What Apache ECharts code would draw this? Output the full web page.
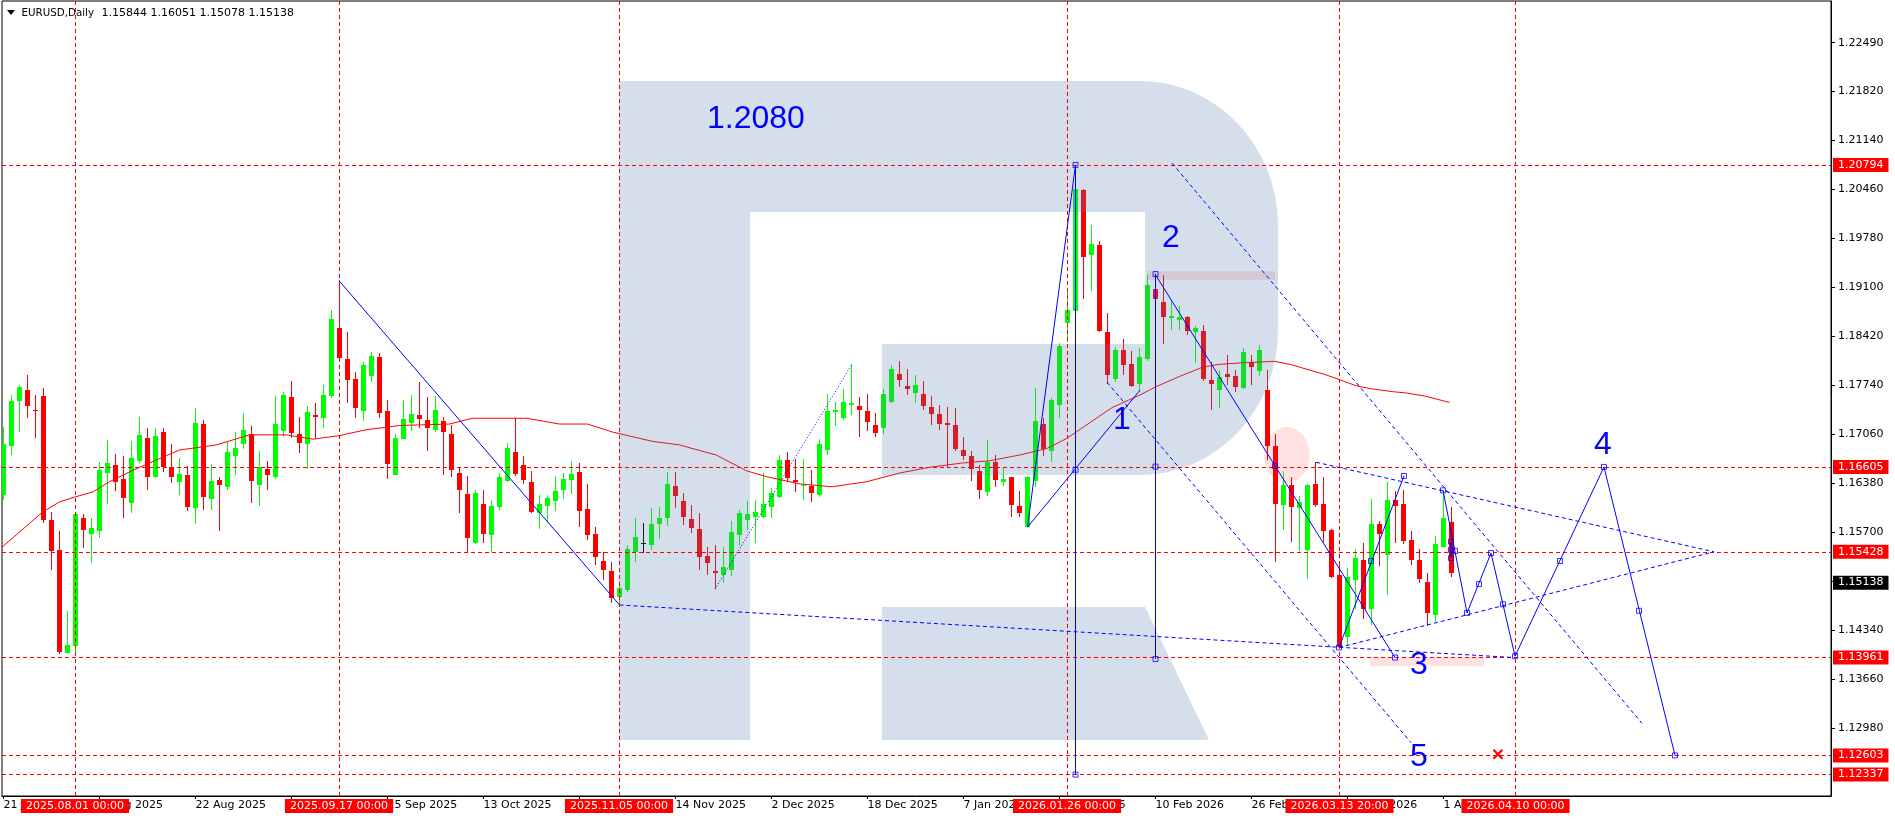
<!DOCTYPE html>
<html><head><meta charset="utf-8">
<script src="https://cdn.jsdelivr.net/npm/echarts@6/dist/echarts.min.js"></script>
<style>html,body{margin:0;padding:0;background:#fff}#c{width:1895px;height:820px}</style>
</head><body><div id="c"></div>
<script>
// ---------------- data ----------------
const opens = [1.1621,1.1689,1.1752,1.1767,1.1740,1.1759,1.1587,1.1545,1.1402,1.1412,
1.1590,1.1567,1.1571,1.1652,1.1663,1.1644,1.1611,1.1669,1.1701,1.1647,
1.1709,1.1660,1.1640,1.1649,1.1603,1.1720,1.1616,1.1642,1.1633,1.1676,
1.1693,1.1706,1.1636,1.1658,1.1646,1.1711,1.1757,1.1706,1.1693,1.1733,
1.1729,1.1759,1.1853,1.1810,1.1782,1.1738,1.1787,1.1813,1.1738,1.1649,
1.1699,1.1722,1.1733,1.1726,1.1712,1.1724,1.1706,1.1652,1.1623,1.1555,
1.1609,1.1566,1.1605,1.1641,1.1681,1.1663,1.1640,1.1597,1.1607,1.1613,
1.1629,1.1643,1.1654,1.1602,1.1567,1.1530,1.1516,1.1480,1.1490,1.1542,
1.15545,1.1552,1.1581,1.1590,1.1634,1.1613,1.1588,1.1574,1.1537,1.1516,
1.1510,1.1518,1.1566,1.1587,1.1591,1.1591,1.1605,1.1619,1.1670,1.1642,
1.1634,1.1634,1.1622,1.1684,1.1737,1.1729,1.1746,1.1745,1.1738,1.1718,
1.1714,1.1751,1.1790,1.1773,1.1763,1.1762,1.1744,1.1734,1.1721,1.1719,
1.1684,1.1676,1.1655,1.1626,1.1668,1.1640,1.1646,1.1606,1.1577,1.1641,
1.1720,1.1683,1.1746,1.1860,1.1877,1.2045,1.1954,1.1968,1.1847,1.1782,
1.1823,1.1803,1.1776,1.1810,1.1907,1.1889,1.1867,1.1864,1.1868,1.1848,
1.1849,1.1781,1.1767,1.1789,1.1786,1.1770,1.1806,1.1793,1.1767,1.1690,
1.1608,1.1635,1.1603,1.1545,1.1637,1.1609,1.1573,1.1511,1.1424,1.1504,
1.1532,1.1463,1.1581,1.1539,1.1615,1.1609,1.1559,1.1531,1.1501,1.1455,
1.1550,1.15844];
const highs = [1.1716,1.1760,1.1774,1.1788,1.1760,1.1770,1.1598,1.1572,1.1461,1.1596,
1.1595,1.1589,1.1667,1.1698,1.1678,1.1675,1.1696,1.1730,1.1714,1.1714,
1.1715,1.1692,1.1673,1.1662,1.1742,1.1725,1.1665,1.1647,1.1696,1.1709,
1.1735,1.1717,1.1682,1.1669,1.1759,1.1764,1.1780,1.1730,1.1745,1.1749,
1.1774,1.1878,1.1920,1.1848,1.1792,1.1806,1.1820,1.1819,1.1753,1.1706,
1.1754,1.1760,1.1778,1.1758,1.1759,1.1730,1.1719,1.1660,1.1648,1.1629,
1.1629,1.1615,1.1652,1.1694,1.1728,1.1676,1.1655,1.1622,1.1622,1.1648,
1.1652,1.1669,1.1666,1.1637,1.1577,1.1542,1.1529,1.1500,1.1552,1.1589,
1.1583,1.1604,1.1605,1.1654,1.1653,1.1625,1.1608,1.1596,1.1550,1.1552,
1.1550,1.1585,1.1601,1.1613,1.1615,1.1652,1.1631,1.1677,1.1681,1.1671,
1.1671,1.1656,1.1699,1.1761,1.1751,1.1768,1.1803,1.1757,1.1761,1.1736,
1.1768,1.1802,1.1808,1.1797,1.1788,1.1780,1.1759,1.1747,1.1743,1.1742,
1.1702,1.1682,1.1663,1.1698,1.1677,1.1661,1.1647,1.1627,1.1648,1.1770,
1.1728,1.1756,1.1832,1.1904,1.20794,1.2046,1.1996,1.1974,1.1874,1.1827,
1.1838,1.1822,1.1825,1.1927,1.1928,1.1927,1.1890,1.1884,1.1870,1.1856,
1.1857,1.1806,1.1795,1.1816,1.1795,1.1825,1.1816,1.1830,1.1795,1.1706,
1.1655,1.1646,1.1620,1.1637,1.1667,1.1646,1.1574,1.1529,1.1520,1.1546,
1.1555,1.1616,1.1585,1.1639,1.1627,1.1629,1.1572,1.1546,1.1513,1.1564,
1.1629,1.16051];
const lows = [1.1614,1.1677,1.1709,1.1729,1.1701,1.1583,1.1518,1.1401,1.1402,1.1398,
1.1548,1.1527,1.1562,1.1609,1.1627,1.1589,1.1597,1.1666,1.1628,1.1645,
1.1654,1.1638,1.1621,1.1600,1.1582,1.1601,1.1601,1.1572,1.1628,1.1650,
1.1685,1.1611,1.1607,1.1629,1.1644,1.1702,1.1701,1.1680,1.1658,1.1699,
1.1715,1.1756,1.1807,1.1749,1.1728,1.1724,1.1778,1.1728,1.1644,1.1649,
1.1699,1.1710,1.1714,1.1682,1.1709,1.1649,1.1646,1.1597,1.1541,1.1554,
1.1555,1.1542,1.1601,1.1640,1.1648,1.1637,1.1596,1.1575,1.1583,1.1600,
1.1616,1.1623,1.1577,1.1559,1.1524,1.1503,1.1472,1.1469,1.1487,1.1528,
1.1541,1.1545,1.1561,1.1578,1.1604,1.1580,1.1569,1.1518,1.1511,1.1491,
1.1500,1.1509,1.1552,1.1573,1.1555,1.1589,1.1589,1.1617,1.1640,1.1626,
1.1615,1.1612,1.1619,1.1677,1.1717,1.1725,1.1733,1.1702,1.1711,1.1702,
1.1706,1.1749,1.1772,1.1760,1.1749,1.1739,1.1718,1.1712,1.1659,1.1682,
1.1670,1.1641,1.1616,1.1620,1.1632,1.1634,1.1591,1.1591,1.1577,1.1632,
1.1675,1.1668,1.1728,1.1834,1.1875,1.1894,1.1905,1.1847,1.1776,1.1779,
1.1788,1.1772,1.1765,1.1808,1.1889,1.1831,1.1850,1.1850,1.1844,1.1804,
1.1780,1.1740,1.1742,1.1774,1.1765,1.1769,1.1774,1.1787,1.1670,1.1529,
1.1573,1.1557,1.1544,1.1505,1.1605,1.1557,1.1506,1.1410,1.1413,1.1464,
1.1449,1.1441,1.1523,1.1483,1.1555,1.1554,1.1524,1.1500,1.1440,1.1446,
1.1550,1.15078];
const closes = [1.1692,1.1752,1.1771,1.1745,1.1739,1.1587,1.1544,1.1404,1.1413,1.1595,
1.1573,1.1576,1.1656,1.1666,1.1640,1.1618,1.1673,1.1705,1.1647,1.1703,
1.1661,1.1646,1.1651,1.1605,1.1721,1.1619,1.1641,1.1636,1.1681,1.1687,
1.1712,1.1641,1.1660,1.1650,1.1720,1.1760,1.1708,1.1694,1.1737,1.1730,
1.1760,1.1866,1.1811,1.1781,1.1742,1.1802,1.1814,1.1736,1.1664,1.1700,
1.1727,1.1734,1.1727,1.1715,1.1739,1.1709,1.1656,1.1628,1.1562,1.1624,
1.1567,1.1606,1.1646,1.1687,1.1651,1.1642,1.1598,1.1609,1.1618,1.1627,
1.1644,1.1651,1.1600,1.1566,1.1535,1.1518,1.1479,1.1493,1.1547,1.1563,
1.15545,1.1582,1.1589,1.1637,1.1620,1.1591,1.1576,1.1536,1.1527,1.1514,
1.1521,1.1570,1.1596,1.1595,1.1598,1.1609,1.1624,1.1670,1.1645,1.1640,
1.1635,1.1625,1.1692,1.1738,1.1739,1.1751,1.1749,1.1739,1.1723,1.1707,
1.1761,1.1796,1.1781,1.1768,1.1774,1.1745,1.1734,1.1720,1.1719,1.1686,
1.1675,1.1657,1.1629,1.1668,1.1642,1.1644,1.1608,1.1597,1.1646,1.1724,
1.1686,1.1753,1.1828,1.1878,1.2046,1.1952,1.1970,1.1849,1.1788,1.1823,
1.1802,1.1773,1.1813,1.1913,1.1893,1.1869,1.1870,1.1868,1.1849,1.1853,
1.1782,1.1775,1.1785,1.1785,1.1772,1.1820,1.1799,1.1823,1.1690,1.1609,
1.1635,1.1605,1.1612,1.1635,1.1608,1.1571,1.1508,1.1411,1.1508,1.1534,
1.1463,1.1581,1.1567,1.1615,1.1606,1.1558,1.1531,1.1505,1.1458,1.1554,
1.1589,1.15138];

// moving average, read at bar positions
const maIdx = [-0.2,4.9,7,9,11.2,13.25,16.2,19.5,22,26.6,30.75,35.3,38.7,42,45.3,49.5,55.75,58.6,65.4,69.5,73,76.1,81.1,84.5,89.1,92.9,95.4,99.5,103.6,107.9,112,115.75,119.9,123.25,127,130.4,132.9,136.6,138.6,142,144.1,147,149.9,152.1,154.9,158.9,161.1,162.9,165.1,166.9,169.1,170.9,173.6,175.4,177.6,180.75];
const maVal = [1.1549,1.1598,1.1612,1.1619,1.1626,1.1640,1.1656,1.1672,1.1684,1.1691,1.1705,1.1705,1.1699,1.1704,1.1712,1.1718,1.1720,1.1728,1.1728,1.1720,1.1720,1.1709,1.1696,1.1691,1.1677,1.1655,1.1647,1.1637,1.1633,1.1640,1.1652,1.1660,1.1666,1.1669,1.1677,1.1686,1.1700,1.1728,1.1743,1.1760,1.1772,1.1786,1.1799,1.1803,1.1805,1.1807,1.1802,1.1796,1.1789,1.1782,1.1773,1.1769,1.1765,1.1763,1.1759,1.1750];

// axes
const xTickIdx = [0,12,24,36,48,60,72,84,96,108,120,132,144,156,168,180];
const xTickLabels = ['21 Jul 2025','6 Aug 2025','22 Aug 2025','9 Sep 2025','25 Sep 2025','13 Oct 2025','29 Oct 2025','14 Nov 2025','2 Dec 2025','18 Dec 2025','7 Jan 2026','23 Jan 2026','10 Feb 2026','26 Feb 2026','16 Mar 2026','1 Apr 2026'];
const yTickLabels = ['1.22490','1.21820','1.21140','1.20460','1.19780','1.19100','1.18420','1.17740','1.17060','1.16380','1.15700','1.15020','1.14340','1.13660','1.12980'];

// horizontal levels and dated vertical lines
const levelLabels = ['1.20794','1.16605','1.15428','1.13961','1.12603','1.12337'];
const lastPrice = '1.15138';
const dateIdx = [8.94, 41.94, 76.94, 132.94, 167.0, 189.0];
const dateLabels = ['2025.08.01 00:00','2025.09.17 00:00','2025.11.05 00:00','2026.01.26 00:00','2026.03.13 20:00','2026.04.10 00:00'];

// drawings: [bar index, price]
const solidLines = [
  [[42,1.1918],[77,1.1469]],
  [[128,1.1577],[134,1.20794]],
  [[128,1.1577],[142.06,1.1767]],
  [[134,1.20794],[134,1.12337]],
  [[144,1.1928],[144,1.1394]],
  [[143.94,1.1928],[173.94,1.1396]],
  [[166.94,1.1410],[175.06,1.1648]],
  [[180.94,1.1557],[180.94,1.1534]],
  [[179.94,1.1628],[182.94,1.1458],[185.94,1.1541],[188.94,1.1398],[200.06,1.16605],[208.94,1.12603]]
];
const dashedLines = [
  [[77,1.1469],[188.94,1.1396]],
  [[166.94,1.1410],[213.8,1.15428]],
  [[164.06,1.1667],[213.8,1.15428]],
  [[146.06,1.2082],[204.8,1.1305]],
  [[137.94,1.1778],[175.94,1.1278]]
];
const dottedLines = [[[88.94,1.1491],[106.06,1.1803]]];
const squarePts = [[134,1.20794],[134,1.16566],[134,1.12337],[144,1.1928],[144,1.1661],[144,1.1394],
  [158.94,1.1662],[173.94,1.1396],[166.94,1.1410],[170.94,1.1530],[175.06,1.1648],
  [179.94,1.1628],[181.44,1.1544],[182.94,1.1458],[184.44,1.1498],[185.94,1.1541],[187.44,1.1470],
  [188.94,1.1398],[194.56,1.1530],[200.06,1.16605],[204.44,1.1461],[208.94,1.12603],
  [180.94,1.1557],[180.94,1.15455],[180.94,1.1534]];
const waveNames = ['1','2','3','4','5'];
const wavePts = [[139.8,1.1726],[145.94,1.1978],[176.94,1.1386],[199.94,1.1690],[176.94,1.1258]];
const noteText = '1.2080';
const notePt = [87.94,1.2143];
const crossPt = [186.8,1.1262];
const pinkRects = [[[142.94,1.1932],[158.94,1.1920]],[[170.8,1.1397],[185.06,1.1384]]];
const pinkEllipse = [160.4,1.1677];

// ---------------- watermark outline (decoration, pixels) ----------------
function arcPts(cx, cy, rx, ry, a0, a1, n) {
  const out = [];
  for (let k = 0; k <= n; k++) { const t = (a0 + (a1 - a0) * k / n) * Math.PI / 180; out.push([cx + rx * Math.cos(t), cy + ry * Math.sin(t)]); }
  return out;
}
const logoMain = [[619,81],[1140,81], ...arcPts(1140,226,138,145,-90,0,24), [1278,226],[1278,330], ...arcPts(1140,330,138,145,0,90,24),
  [1140,475],[882,475],[882,344],[1145,344],[1145,212],[750,212],[750,740],[619,740]];
const logoLeg = [[882,607],[1145,607],[1209,740],[882,740]];

// ---------------- chart ----------------
const FONT = 'DejaVu Sans';
const chart = echarts.init(document.getElementById('c'), null, {renderer:'canvas', width:1895, height:820});
const candleData = opens.map((o,i)=>[i,o,closes[i],lows[i],highs[i]]);
const BLUE = '#0000ff';

const series = [];
series.push({
  type:'custom', z:1, silent:true, animation:false,
  data:[pinkEllipse], encode:{x:0,y:1},
  renderItem:(p,api)=>{const c=api.coord([api.value(0),api.value(1)]);
    return {type:'circle', x:c[0], y:c[1], scaleY:28/23, shape:{cx:0,cy:0,r:23}, style:{fill:'#ffe1e1'}};},
  markArea:{silent:true, itemStyle:{color:'#ffe1e1'}, data:pinkRects.map(r=>[{coord:r[0]},{coord:r[1]}])}
});
series.push({
  type:'custom', z:3, silent:true, animation:false, clip:true,
  data:candleData, encode:{x:0,y:[1,2,3,4]},
  renderItem:(p,api)=>{
    const i=api.value(0),o=api.value(1),c=api.value(2),l=api.value(3),h=api.value(4);
    const pO=api.coord([i,o]),pC=api.coord([i,c]),pL=api.coord([i,l]),pH=api.coord([i,h]);
    const x=Math.floor(pO[0]);
    const col = c>o ? '#00ff00' : (c<o ? '#ff0000' : '#000000');
    const top=Math.round(Math.min(pO[1],pC[1])), bot=Math.round(Math.max(pO[1],pC[1]));
    return {type:'group',children:[
      {type:'rect',shape:{x:x,y:Math.round(pH[1]),width:1,height:Math.max(1,Math.round(pL[1])-Math.round(pH[1]))},style:{fill:col}},
      {type:'rect',shape:{x:x-2,y:top,width:5,height:Math.max(1,bot-top)},style:{fill:col}}
    ]};
  }
});
const hData = levelLabels.map(t=>({yAxis:parseFloat(t),label:{formatter:t}}));
const vData = dateIdx.map((v,i)=>({xAxis:v, label:{formatter:dateLabels[i], position:'start', distance:3}}));
const labelBase = {show:true, position:'end', distance:2, color:'#ffffff', backgroundColor:'#ff0000',
      padding:[1,5,1,5], fontFamily:FONT, fontSize:11, lineHeight:12};
series.push({
  type:'line', z:4, silent:true, animation:false, symbol:'none',
  data:maIdx.map((x,i)=>[x,maVal[i]]),
  lineStyle:{color:'#ff0000',width:1},
  markLine:{silent:true, symbol:['none','none'], animation:false, precision:5,
    lineStyle:{color:'#ff0000',width:1,type:[4,3]},
    label:labelBase,
    data:[...hData, ...vData]}
});
// last price tag (black)
series.push({
  type:'line', z:4, silent:true, animation:false, symbol:'none', data:[],
  markLine:{silent:true, symbol:['none','none'], animation:false,
    lineStyle:{color:'rgba(0,0,0,0)',width:1},
    label:Object.assign({}, labelBase, {backgroundColor:'#000000', formatter:lastPrice}),
    data:[{yAxis:parseFloat(lastPrice)}]}
});
const lineS = (path,type)=>({type:'line', z:10, silent:true, animation:false, symbol:'none', clip:false,
  data:path, lineStyle:{color:BLUE,width:1,type:type}});
solidLines.forEach(p=>series.push(lineS(p,'solid')));
dashedLines.forEach(p=>series.push(lineS(p,[4,3])));
dottedLines.forEach(p=>series.push(lineS(p,[1,2])));
series.push({type:'scatter', z:11, silent:true, animation:false, symbol:'rect', symbolSize:5,
  data:squarePts, itemStyle:{color:'rgba(255,255,255,0)',borderColor:BLUE,borderWidth:1}});
series.push({type:'custom', z:12, silent:true, animation:false,
  data:wavePts.map((p,i)=>[p[0],p[1],i]), encode:{x:0,y:1},
  renderItem:(p,api)=>{const c=api.coord([api.value(0),api.value(1)]);
    return {type:'text', x:c[0], y:c[1], style:{text:waveNames[api.value(2)], fill:BLUE,
      fontFamily:'Liberation Sans', fontSize:32, align:'center', verticalAlign:'middle'}};}
});
series.push({type:'custom', z:12, silent:true, animation:false,
  data:[notePt], encode:{x:0,y:1},
  renderItem:(p,api)=>{const c=api.coord([api.value(0),api.value(1)]);
    return {type:'text', x:c[0], y:c[1], style:{text:noteText, fill:BLUE,
      fontFamily:'Liberation Sans', fontSize:32, align:'left', verticalAlign:'middle'}};}
});
series.push({type:'custom', z:12, silent:true, animation:false,
  data:[crossPt], encode:{x:0,y:1},
  renderItem:(p,api)=>{const c=api.coord([api.value(0),api.value(1)]);const s=4.5;
    return {type:'group',children:[
      {type:'line',shape:{x1:c[0]-s,y1:c[1]-s,x2:c[0]+s,y2:c[1]+s},style:{stroke:'#ff0000',lineWidth:2.2}},
      {type:'line',shape:{x1:c[0]-s,y1:c[1]+s,x2:c[0]+s,y2:c[1]-s},style:{stroke:'#ff0000',lineWidth:2.2}}]};}
});

const yVals = yTickLabels.map(parseFloat);
chart.setOption({
  animation:false,
  backgroundColor:'#ffffff',
  textStyle:{fontFamily:FONT},
  grid:{left:2, right:64, top:1, bottom:24, show:true, borderColor:'#000000', borderWidth:1, backgroundColor:'transparent'},
  xAxis:{type:'value', min:-0.1875, max:228.4375,
    axisLine:{show:true,onZero:false,lineStyle:{color:'#000000',width:1}},
    axisTick:{show:true,customValues:xTickIdx,length:3,lineStyle:{color:'#000000'}},
    axisLabel:{show:true,customValues:xTickIdx,formatter:v=>xTickLabels[Math.round(v/12)],
      align:'left',margin:4,color:'#000000',fontFamily:FONT,fontSize:11},
    splitLine:{show:false}},
  yAxis:{type:'value', position:'right', min:1.120402, max:1.230684,
    axisLine:{show:true,onZero:false,lineStyle:{color:'#000000',width:1}},
    axisTick:{show:true,customValues:yVals,length:4,lineStyle:{color:'#000000'}},
    axisLabel:{show:true,customValues:yVals,formatter:v=>v.toFixed(5),margin:7,color:'#000000',fontFamily:FONT,fontSize:11},
    splitLine:{show:false}},
  graphic:[
    {type:'polygon', z:5, silent:true, shape:{points:logoMain}, style:{fill:'rgba(78,123,173,0.243)'}},
    {type:'polygon', z:5, silent:true, shape:{points:logoLeg}, style:{fill:'rgba(78,123,173,0.243)'}},
    {type:'polygon', z:20, silent:true, shape:{points:[[7,10],[15,10],[11,15]]}, style:{fill:'#000000'}},
    {type:'text', z:20, silent:true, x:21.5, y:13, style:{text:'EURUSD,Daily', fill:'#000000', fontFamily:FONT, fontSize:10.3, verticalAlign:'middle'}},
    {type:'text', z:20, silent:true, x:101.5, y:13, style:{text:'1.15844 1.16051 1.15078 1.15138', fill:'#000000', fontFamily:FONT, fontSize:11, verticalAlign:'middle'}}
  ],
  series:series
});
</script>
</body></html>
